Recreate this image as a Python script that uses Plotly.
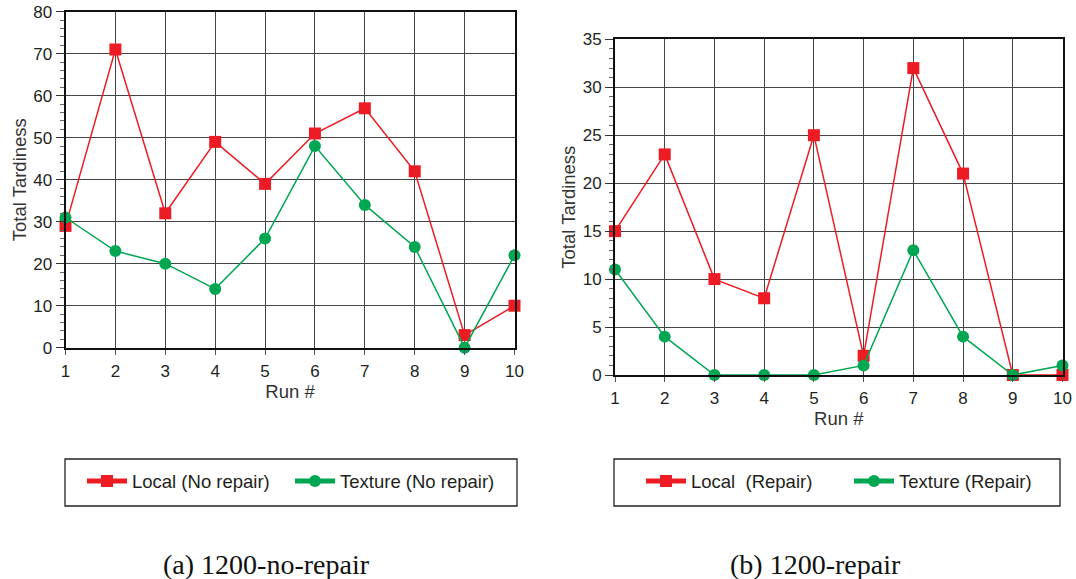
import plotly.graph_objects as go

runs = [1, 2, 3, 4, 5, 6, 7, 8, 9, 10]
local_no_repair = [29, 71, 32, 49, 39, 51, 57, 42, 3, 10]
texture_no_repair = [31, 23, 20, 14, 26, 48, 34, 24, 0, 22]
local_repair = [15, 23, 10, 8, 25, 2, 32, 21, 0, 0]
texture_repair = [11, 4, 0, 0, 0, 1, 13, 4, 0, 1]

RED = "#ED1C24"
GREEN = "#00A651"
TXT = "#231F20"
W, H = 1076, 579
SANS = "Liberation Sans, Arial, sans-serif"

def px(x):
    return x / W

def py(y):
    return 1 - y / H

fig = go.Figure()

def add(x, y, name, color, symbol, xa, ya, legend):
    fig.add_trace(go.Scatter(
        x=x, y=y, name=name, mode="lines+markers",
        line=dict(color=color, width=1.5),
        marker=dict(color=color, symbol=symbol, size=12),
        xaxis=xa, yaxis=ya, legend=legend, cliponaxis=False,
    ))

add(runs, local_no_repair, "Local (No repair)", RED, "square", "x", "y", "legend")
add(runs, texture_no_repair, "Texture (No repair)", GREEN, "circle", "x", "y", "legend")
add(runs, local_repair, "Local  (Repair)", RED, "square", "x2", "y2", "legend2")
add(runs, texture_repair, "Texture (Repair)", GREEN, "circle", "x2", "y2", "legend2")

tickfont = dict(family=SANS, size=17, color=TXT)
titlefont = dict(family=SANS, size=18.5, color="#333")
GRID = "#444444"

def xaxis(domain, anchor):
    return dict(
        domain=domain, anchor=anchor, range=[1, 10], tickvals=runs,
        showgrid=True, gridcolor=GRID, gridwidth=1,
        showline=True, linecolor="#111", linewidth=2, mirror=True,
        ticks="outside", ticklen=5, tickcolor="#555", ticklabelstandoff=2,
        tickfont=tickfont, zeroline=False, automargin=False,
        title=dict(text="Run #", font=titlefont, standoff=5),
    )

def yaxis(domain, anchor, rng, dtick, mdtick):
    return dict(
        domain=domain, anchor=anchor, range=rng, dtick=dtick,
        showgrid=True, gridcolor=GRID, gridwidth=1,
        showline=True, linecolor="#111", linewidth=2, mirror=True,
        ticks="outside", ticklen=8, tickcolor="#333", ticklabelstandoff=0,
        minor=dict(ticks="outside", ticklen=4, dtick=mdtick, tickcolor="#666", showgrid=False),
        tickfont=tickfont, zeroline=False, automargin=False,
        title=dict(text="Total Tardiness", font=titlefont, standoff=2),
    )

legend_common = dict(
    orientation="h", xanchor="left", yanchor="middle",
    font=dict(family=SANS, size=18.5, color=TXT),
    bgcolor="rgba(0,0,0,0)", borderwidth=0,
    itemsizing="constant", itemwidth=40,
)

fig.update_layout(
    width=W, height=H, margin=dict(l=0, r=0, t=0, b=0),
    paper_bgcolor="white", plot_bgcolor="white",
    xaxis=xaxis([px(65.5), px(514.5)], "y"),
    yaxis=yaxis([py(347.7), py(11.7)], "x", [0, 80], 10, 2),
    xaxis2=xaxis([px(615), px(1062.5)], "y2"),
    yaxis2=yaxis([py(375), py(39.3)], "x2", [0, 35], 5, 1),
    legend=dict(legend_common, x=px(82), y=py(481.5), entrywidth=153),
    legend2=dict(legend_common, x=px(641), y=py(481.5), entrywidth=153),
    shapes=[
        dict(type="rect", xref="paper", yref="paper",
             x0=px(65), x1=px(517), y0=py(506), y1=py(459),
             line=dict(color="#222", width=1.3)),
        dict(type="rect", xref="paper", yref="paper",
             x0=px(614), x1=px(1060), y0=py(506), y1=py(459),
             line=dict(color="#222", width=1.3)),
    ],
    annotations=[
        dict(text="(a) 1200-no-repair", xref="paper", yref="paper",
             x=px(266), y=py(564), xanchor="center", yanchor="middle", showarrow=False,
             font=dict(family="Liberation Serif, DejaVu Serif, serif", size=28, color="#111")),
        dict(text="(b) 1200-repair", xref="paper", yref="paper",
             x=px(815), y=py(564), xanchor="center", yanchor="middle", showarrow=False,
             font=dict(family="Liberation Serif, DejaVu Serif, serif", size=28, color="#111")),
    ],
    showlegend=True,
)

fig.write_html("out.html")
